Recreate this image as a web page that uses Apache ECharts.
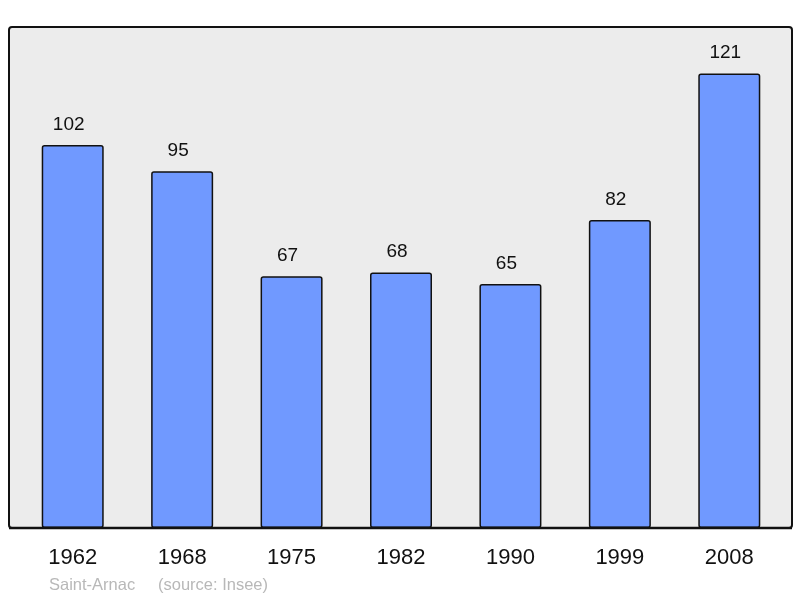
<!DOCTYPE html>
<html>
<head>
<meta charset="utf-8">
<script src="https://cdn.jsdelivr.net/npm/echarts@6/dist/echarts.min.js"></script>
<style>
  html, body { margin: 0; padding: 0; background: #fff; }
  #chart { width: 800px; height: 598px; }
</style>
</head>
<body>
<div id="chart"></div>
<script>
const years = ['1962', '1968', '1975', '1982', '1990', '1999', '2008']
const population = [102, 95, 67, 68, 65, 82, 121]
const place = 'Saint-Arnac'
const source = '(source: Insee)'

const chart = echarts.init(document.getElementById('chart'))
const font = '"Liberation Sans", Arial, sans-serif'

chart.setOption({
  animation: false,
  grid: { left: 18, right: 16, top: 27, bottom: 70 },
  graphic: [
    // frame behind the bars
    {
      type: 'rect', z: -10,
      shape: { x: 9, y: 27, width: 783, height: 501, r: 3 },
      style: { fill: '#ececec', stroke: '#111', lineWidth: 2 },
    },
    {
      type: 'line', z: 10,
      shape: { x1: 9, y1: 528, x2: 792, y2: 528 },
      style: { stroke: '#111', lineWidth: 2.4 },
    },
    {
      type: 'text', left: 49, top: 577,
      style: { text: place, fill: '#b8b8b8', font: '16.5px ' + font },
    },
    {
      type: 'text', left: 158, top: 577,
      style: { text: source, fill: '#b8b8b8', font: '16.5px ' + font },
    },
  ],
  xAxis: {
    type: 'category',
    data: years,
    axisLine: { show: false },
    axisTick: { show: false },
    axisLabel: { color: '#111', fontSize: 22, fontFamily: font, margin: 19 },
  },
  yAxis: {
    type: 'value', min: 0, max: 133.4, show: false,
    splitLine: { show: false },
  },
  series: [{
    type: 'bar',
    data: population,
    barWidth: 62,
    itemStyle: { color: '#7099ff', borderColor: '#111', borderWidth: 1.5, borderRadius: 2 },
    label: {
      show: true, position: 'top', distance: 11, offset: [-4, 0],
      color: '#111', fontSize: 19, fontFamily: font,
    },
  }],
})
</script>
</body>
</html>
